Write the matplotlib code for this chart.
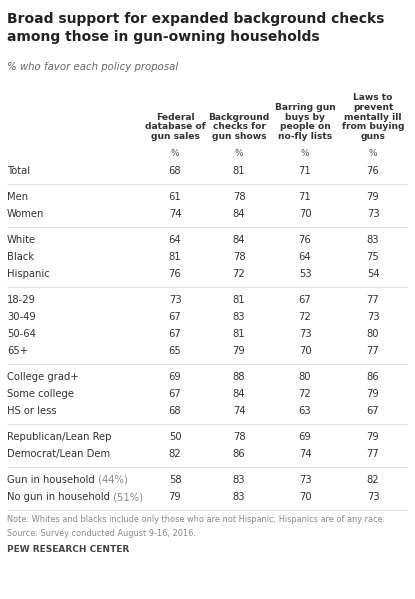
import matplotlib.pyplot as plt

W, H = 415, 599

columns = ["Federal\ndatabase of\ngun sales", "Background\nchecks for\ngun shows",
           "Barring gun\nbuys by\npeople on\nno-fly lists", "Laws to\nprevent\nmentally ill\nfrom buying\nguns"]
groups = [
    [("Total", "", [68, 81, 71, 76])],
    [("Men", "", [61, 78, 71, 79]), ("Women", "", [74, 84, 70, 73])],
    [("White", "", [64, 84, 76, 83]), ("Black", "", [81, 78, 64, 75]),
     ("Hispanic", "", [76, 72, 53, 54])],
    [("18-29", "", [73, 81, 67, 77]), ("30-49", "", [67, 83, 72, 73]),
     ("50-64", "", [67, 81, 73, 80]), ("65+", "", [65, 79, 70, 77])],
    [("College grad+", "", [69, 88, 80, 86]), ("Some college", "", [67, 84, 72, 79]),
     ("HS or less", "", [68, 74, 63, 67])],
    [("Republican/Lean Rep", "", [50, 78, 69, 79]),
     ("Democrat/Lean Dem", "", [82, 86, 74, 77])],
    [("Gun in household", " (44%)", [58, 83, 73, 82]),
     ("No gun in household", " (51%)", [79, 83, 70, 73])],
]

col_x = [175, 239, 305, 373]
dark = "#333333"
grey = "#888888"

fig = plt.figure(figsize=(W / 100, H / 100), dpi=100)
ax = fig.add_axes([0, 0, 1, 1])
ax.set_xlim(0, W)
ax.set_ylim(H, 0)
ax.axis("off")

ax.text(7, 12, "Broad support for expanded background checks\namong those in gun-owning households",
        fontsize=10, fontweight="bold", color="#222222", va="top", linespacing=1.35)
ax.text(7, 67, "% who favor each policy proposal", fontsize=7.3, style="italic",
        color="#666666", va="center")

for x, c in zip(col_x, columns):
    ax.text(x, 141, c, fontsize=6.6, fontweight="bold", color=dark, ha="center",
            va="bottom", linespacing=1.1)
    ax.text(x, 153, "%", fontsize=6.5, color="#555555", ha="center", va="center")

y = 171
for gi, g in enumerate(groups):
    if gi > 0:
        ax.plot([7, 408], [y - 13, y - 13], color="#e0e0e0", lw=0.6)
    for label, extra, vals in g:
        t = ax.text(7, y, label, fontsize=7.2, color=dark, va="center")
        if extra:
            fig.canvas.draw()
            bb = t.get_window_extent()
            ax.text(7 + bb.width, y, extra, fontsize=7.2, color=grey, va="center")
        for x, v in zip(col_x, vals):
            ax.text(x, y, str(v), fontsize=7.2, color=dark, ha="center", va="center")
        y += 17
    y += 9

ax.plot([7, 408], [510, 510], color="#e0e0e0", lw=0.6)
ax.text(7, 519, "Note: Whites and blacks include only those who are not Hispanic; Hispanics are of any race.",
        fontsize=5.9, color=grey, va="center")
ax.text(7, 533, "Source: Survey conducted August 9-16, 2016.", fontsize=5.9, color=grey, va="center")
ax.text(7, 549, "PEW RESEARCH CENTER", fontsize=6.5, fontweight="bold", color="#444444", va="center")

fig.savefig("out.png", dpi=100)
